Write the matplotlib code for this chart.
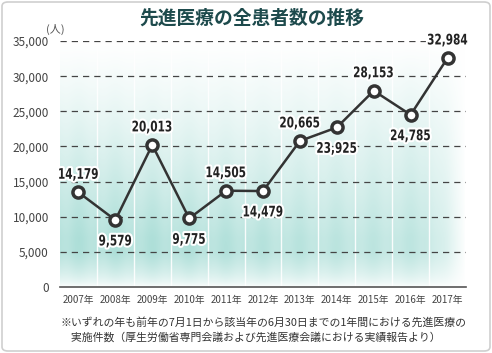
import numpy as np
import matplotlib
matplotlib.use("Agg")
import matplotlib.pyplot as plt
import matplotlib.patheffects as pe
from matplotlib.patches import FancyBboxPatch
from matplotlib.transforms import Affine2D

plt.rcParams['font.family'] = ['Noto Sans CJK JP', 'DejaVu Sans']

# data
years = ["2007年", "2008年", "2009年", "2010年", "2011年", "2012年",
         "2013年", "2014年", "2015年", "2016年", "2017年"]
patients = [13470, 9520, 20210, 9760, 13700, 13650, 20780, 22700, 27920, 24500, 32580]
value_labels = ["14,179", "9,579", "20,013", "9,775", "14,505", "14,479",
                "20,665", "23,925", "28,153", "24,785", "32,984"]
label_below = [False, True, False, True, False, True, False, True, False, True, False]
yticks = [0, 5000, 10000, 15000, 20000, 25000, 30000, 35000]

title = "先進医療の全患者数の推移"
note = ("※いずれの年も前年の7月1日から該当年の6月30日までの1年間における先進医療の\n"
        "　実施件数（厚生労働省専門会議および先進医療会議における実績報告より）")


class Squeeze(pe.AbstractPathEffect):
    """squash text horizontally around its centre (no narrow font installed)"""
    def __init__(self, sx, effects):
        super().__init__()
        self.sx = sx
        self.effects = effects

    def draw_path(self, renderer, gc, tpath, affine, rgbFace=None):
        pts = affine.transform(tpath.vertices)
        if len(pts):
            cx = (np.nanmin(pts[:, 0]) + np.nanmax(pts[:, 0])) / 2
        else:
            cx = 0
        aff = affine + Affine2D().translate(-cx, 0).scale(self.sx, 1).translate(cx, 0)
        for e in self.effects:
            e.draw_path(renderer, gc, tpath, aff, rgbFace)


fig = plt.figure(figsize=(4.92, 3.53), dpi=100)
W, H = 492, 353

# rounded border of the card
border = FancyBboxPatch((2 / W, 2 / H), 488 / W, 349 / H,
                        boxstyle="round,pad=0,rounding_size=0.012",
                        transform=fig.transFigure, facecolor="white",
                        edgecolor="#cfcfcf", linewidth=1.2, zorder=-5)
fig.patches.append(border)

ax = fig.add_axes([60 / W, (H - 287) / H, 406 / W, 246 / H])
ax.patch.set_alpha(0)
n = len(years)
x = np.arange(n)
ax.set_xlim(-0.5, n - 0.5)
ax.set_ylim(0, 35000)

# soft teal background
gx = np.linspace(0, 1, 400)
gy = np.linspace(0, 1, 300)
GX, GY = np.meshgrid(gx, gy)
col_phase = (GX * n) % 1.0
shade = 0.72 + 0.12 * np.cos((col_phase - 0.5) * np.pi * 1.4) ** 2
shade *= np.clip(GY / 0.14, 0, 1) ** 0.6          # fade near the axis line
shade *= np.clip((1 - GY) / 0.8, 0, 1) ** 1.1     # fade toward the top
shade *= np.clip((1 - GX) / 0.1, 0, 1) ** 0.8     # fade at right
wave = 0.5 + 0.5 * np.sin(GX * 4.0 + GY * 3.0 + 0.6)
shade *= 0.8 + 0.2 * wave
teal = np.array([0.62, 0.85, 0.82])
img = 1 - shade[..., None] * (1 - teal)
ax.imshow(img, extent=(-0.5, n - 0.5, 0, 35000), origin="lower",
          aspect="auto", zorder=0, interpolation="bilinear")

for b in np.arange(0.5, n - 1, 1.0):
    ax.axvline(b, color="white", linewidth=1.0, alpha=0.9, zorder=1)

for t in yticks[1:]:
    ax.axhline(t, color="#444444", linewidth=0.9, linestyle=(0, (5, 4)), zorder=2)

ax.plot(x, patients, color="#333333", linewidth=1.8, zorder=3)
ax.plot(x, patients, "o", markersize=8, markerfacecolor="white",
        markeredgecolor="#333333", markeredgewidth=2.5, zorder=4)

squeeze = Squeeze(0.72, [pe.Stroke(linewidth=3, foreground="white"), pe.Normal()])
for xi, v, lab, below in zip(x, patients, value_labels, label_below):
    dy = -15 if below else 13
    ax.annotate(lab, (xi, v), xytext=(0, dy), textcoords="offset points",
                ha="center", va="center", fontsize=10.5, fontweight="bold",
                family="DejaVu Sans", color="#222222", zorder=5,
                path_effects=[squeeze])

for s in ["top", "right", "left"]:
    ax.spines[s].set_visible(False)
ax.spines["bottom"].set_color("#555555")
ax.spines["bottom"].set_linewidth(1.2)

ax.set_yticks(yticks)
ax.set_yticklabels([f"{t:,}" for t in yticks], fontsize=8.5, color="#444444")
ax.set_xticks(x)
ax.set_xticklabels(years, fontsize=7, color="#444444")
ax.tick_params(length=0, pad=6)
ax.tick_params(axis="y", pad=8)

fig.text(252 / W, 1 - 18 / H, title, ha="center", va="center",
         fontsize=13.5, fontweight="bold", color="#1d4a4c")
fig.text(55 / W, 1 - 29 / H, "(人)", ha="center", va="center",
         fontsize=8, color="#555555")
fig.text(60 / W, 1 - 330 / H, note, ha="left", va="center",
         fontsize=7.8, color="#333333", linespacing=1.45)

fig.savefig("out.png", dpi=100)
